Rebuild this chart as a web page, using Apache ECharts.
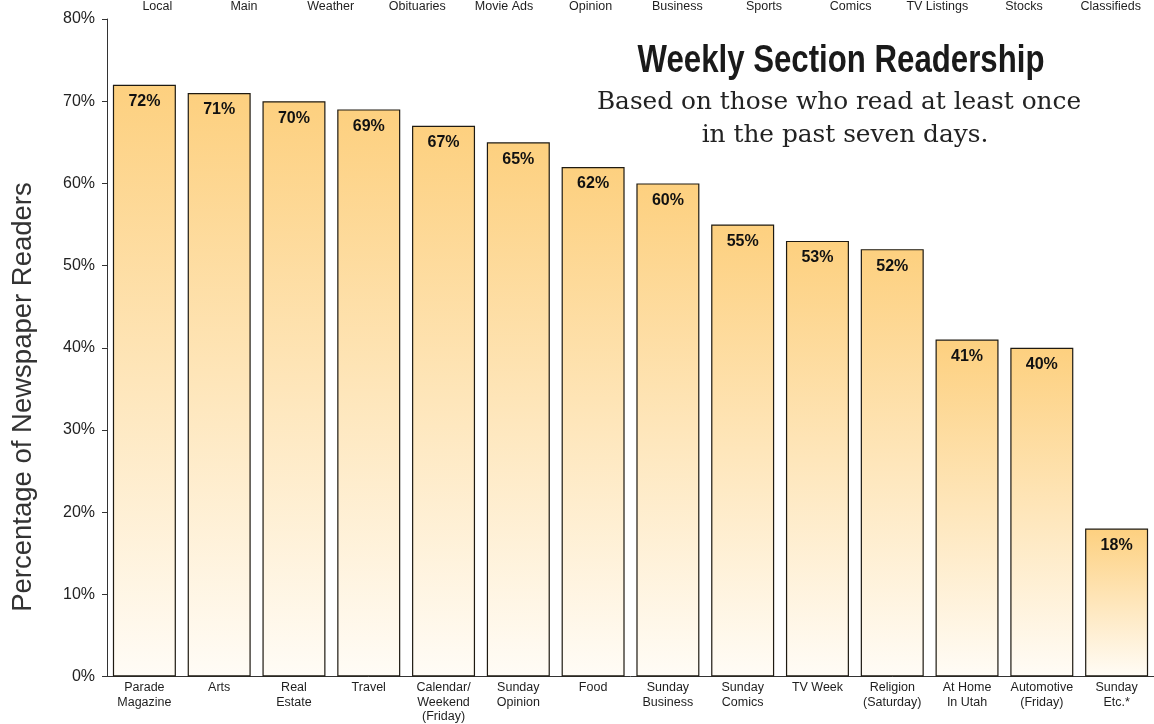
<!DOCTYPE html>
<html>
<head>
<meta charset="utf-8">
<script src="https://cdn.jsdelivr.net/npm/echarts@6/dist/echarts.min.js"></script>
<style>html,body{margin:0;padding:0;background:#fff}#c{width:1154px;height:724px}</style>
</head>
<body>
<div id="c"></div>
<script>
const categories = ["Parade\nMagazine", "Arts", "Real\nEstate", "Travel", "Calendar/\nWeekend\n(Friday)", "Sunday\nOpinion", "Food", "Sunday\nBusiness", "Sunday\nComics", "TV Week", "Religion\n(Saturday)", "At Home\nIn Utah", "Automotive\n(Friday)", "Sunday\nEtc.*"];
const readership = [72, 71, 70, 69, 67, 65, 62, 60, 55, 53, 52, 41, 40, 18];
const topCategories = ["Local", "Main", "Weather", "Obituaries", "Movie Ads", "Opinion", "Business", "Sports", "Comics", "TV Listings", "Stocks", "Classifieds"];
const yTicks = [0, 10, 20, 30, 40, 50, 60, 70, 80];

const chart = echarts.init(document.getElementById('c'));
chart.setOption({
  animation: false,
  backgroundColor: '#ffffff',
  grid: [
    {left: 107, right: 0, top: 19, bottom: 46.5},
    {left: 114, width: 1046, top: 15, height: 1}
  ],
  xAxis: [
    {
      type: 'category', gridIndex: 0, data: categories,
      axisLine: {lineStyle: {color: '#333', width: 1}},
      axisTick: {show: false},
      axisLabel: {color: '#1e1e1e', fontSize: 12.5, lineHeight: 14.5, margin: 4, fontFamily: 'Liberation Sans', interval: 0}
    },
    {
      type: 'category', gridIndex: 1, data: topCategories, position: 'top',
      axisLine: {show: false}, axisTick: {show: false},
      axisLabel: {color: '#1e1e1e', fontSize: 12.5, margin: 2, fontFamily: 'Liberation Sans', interval: 0}
    }
  ],
  yAxis: [
    {
      type: 'value', gridIndex: 0, min: yTicks[0], max: yTicks[yTicks.length - 1], interval: 10,
      axisLine: {show: true, lineStyle: {color: '#333', width: 1}},
      axisTick: {show: true, length: 5, lineStyle: {color: '#333'}},
      splitLine: {show: false},
      axisLabel: {color: '#222', fontSize: 16, margin: 12, fontFamily: 'Liberation Sans', formatter: '{value}%'}
    },
    {type: 'value', gridIndex: 1, show: false}
  ],
  series: [
    {
      type: 'bar', xAxisIndex: 0, yAxisIndex: 0, data: readership, barWidth: 63,
      itemStyle: {
        color: new echarts.graphic.LinearGradient(0, 0, 0, 1, [
          {offset: 0, color: '#FDD07F'},
          {offset: 1, color: '#FFFCF6'}
        ]),
        borderColor: '#1e1a12', borderWidth: 1.2
      },
      label: {
        show: true, position: 'insideTop', distance: 9,
        formatter: '{c}%', color: '#111', fontSize: 16, fontWeight: 'bold', fontFamily: 'Liberation Sans'
      }
    }
  ],
  graphic: [
    {type: 'text', x: 841, y: 61, scaleX: 0.8, style: {text: 'Weekly Section Readership', font: 'bold 39px "Liberation Sans"', fill: '#1a1a1a', textAlign: 'center', textVerticalAlign: 'middle'}},
    {type: 'text', x: 839, y: 103, style: {text: 'Based on those who read at least once', font: '24.8px "DejaVu Serif"', fill: '#222', textAlign: 'center', textVerticalAlign: 'middle'}},
    {type: 'text', x: 845, y: 136, style: {text: 'in the past seven days.', font: '24.8px "DejaVu Serif"', fill: '#222', textAlign: 'center', textVerticalAlign: 'middle'}},
    {type: 'text', x: 23, y: 397, rotation: Math.PI / 2, style: {text: 'Percentage of Newspaper Readers', font: '27.5px "Liberation Sans"', fill: '#333', textAlign: 'center', textVerticalAlign: 'middle'}}
  ]
});
</script>
</body>
</html>
